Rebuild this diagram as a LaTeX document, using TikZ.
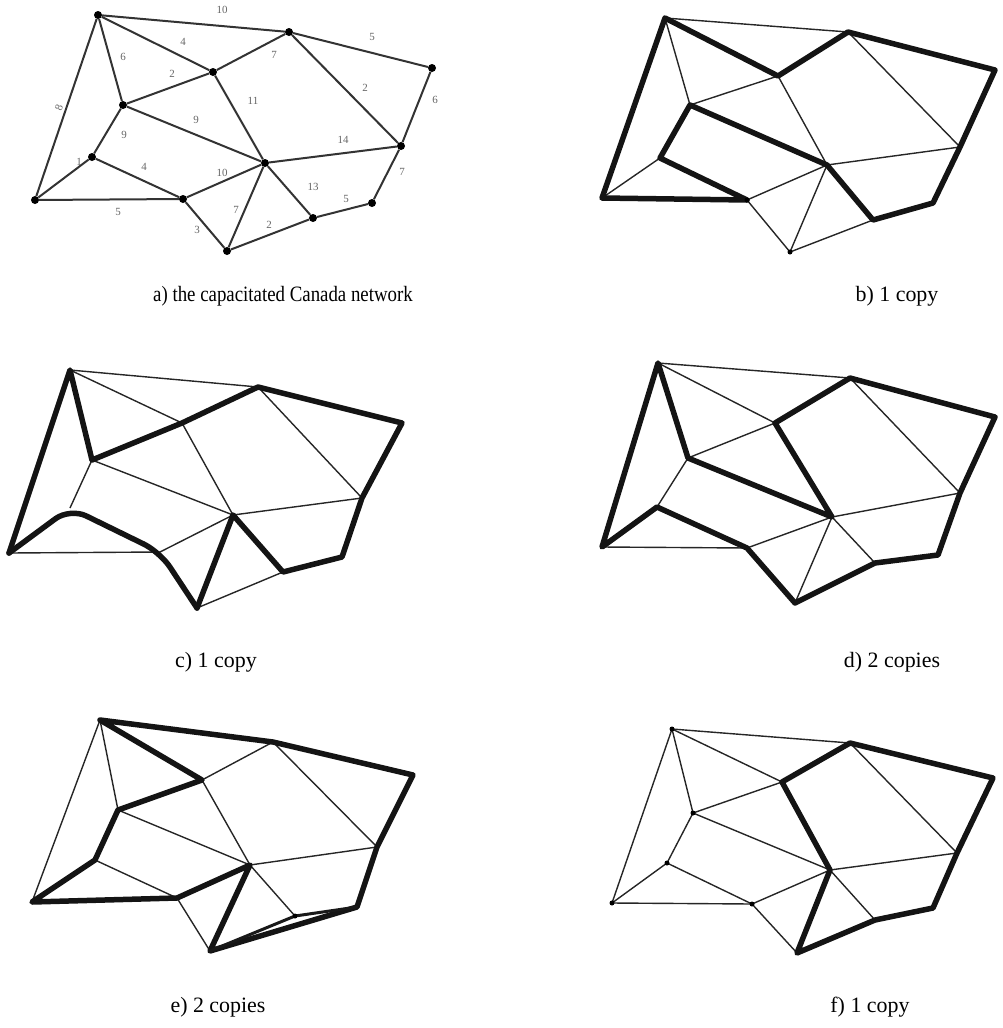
\documentclass[tikz,border=0pt]{standalone}
\usepackage{fontspec}
\setmainfont{Liberation Serif}
\begin{document}
\begin{tikzpicture}[x=1bp,y=-1bp,
  dot/.style={circle,fill=black,inner sep=0pt,minimum size=8bp},
  sdot/.style={circle,fill=black,inner sep=0pt,minimum size=5bp},
  aedge/.style={draw=black!80,line width=2bp},
  thinedge/.style={draw=black!85,line width=1.4bp},
  heavy/.style={draw=black!92,line width=5.5bp,line cap=round,line join=round},
  medium/.style={draw=black!90,line width=3bp,line cap=round,line join=round},
  lab/.style={font=\fontsize{11}{11}\selectfont,text=black!60,inner sep=1pt},
  captxt/.style={font=\fontsize{22}{24}\selectfont,inner sep=0pt}]
\useasboundingbox (0,0) rectangle (1003,1028);

% ---------------- panel a ----------------
\foreach \n/\x/\y in {A/98/15,B/213/72,C/123/105,D/92/157,E/35/200,F/183/199,G/227/251,H/265/163,I/289/32,J/432/68,K/401/146,L/372/203,M/313/218}
  \node[dot] (a-\n) at (\x,\y) {};
\foreach \u/\v in {A/I,A/B,A/C,A/E,B/I,B/C,B/H,C/H,C/D,D/E,D/F,E/F,F/H,F/G,G/H,G/M,H/M,H/K,I/J,I/K,J/K,K/L,L/M}
  \draw[aedge] (a-\u) -- (a-\v);
\foreach \t/\x/\y [count=\i] in {10/222/10,4/183/42,6/123/57,2/172/74,7/274/55,5/372/37,11/253/101,2/365/88,6/435/100,9/196/120,9/124/135,14/343/140,1/79/162,4/144/167,10/222/173,7/402/172,13/313/187,5/346/199,5/118/212,7/236/210,3/197/230,2/269/225}
  \node[lab] (la\i) at (\x,\y) {\t};
\node[lab,rotate=70] (laeight) at (59,108) {8};
\node[captxt,xscale=0.86] (capa) at (283,296) {a) the capacitated Canada network};

% ---------------- panel b ----------------
\foreach \n/\x/\y in {A/665/18,B/778/76,C/690/105,D/660/158,E/602/198,F/747/200,G/790/252,H/827/165,I/848/32,J/995/70,K/960/147,L/933/203,M/873/220}
  \coordinate (b-\n) at (\x,\y);
\foreach \u/\v in {A/I,A/C,B/C,B/H,D/E,F/H,F/G,G/H,G/M,H/K,I/K}
  \draw[thinedge] (b-\u) -- (b-\v);
\draw[heavy] (b-E) -- (b-A) -- (b-B) -- (b-I) -- (b-J) -- (b-K) -- (b-L) -- (b-M) -- (b-H) -- (b-C) -- (b-D) -- (b-F) -- cycle;
\node[sdot] (bdF) at (b-F) {};
\node[sdot] (bdG) at (b-G) {};
\node[captxt] (capb) at (897,296) {b) 1 copy};

% ---------------- panel c ----------------
\foreach \n/\x/\y in {A/70/370,B/182/423,C/92/460,D/70/508,E/9/553,F/160/552,G/197/608,H/233/515,I/258/387,J/402/423,K/362/498,L/342/557,M/283/572}
  \coordinate (c-\n) at (\x,\y);
\foreach \u/\v in {A/I,A/B,B/H,C/H,C/D,E/F,F/H,G/M,H/K,I/K}
  \draw[thinedge] (c-\u) -- (c-\v);
\draw[heavy] (c-E) -- (c-A) -- (c-C) -- (c-B) -- (c-I) -- (c-J) -- (c-K) -- (c-L) -- (c-M) -- (c-H) -- (c-G);
\draw[heavy,rounded corners=18bp] (c-G) -- (c-F) -- (c-D) -- (c-E);
\node[captxt] (capc) at (216,662) {c) 1 copy};

% ---------------- panel d ----------------
\foreach \n/\x/\y in {A/658/363,B/775/423,C/688/458,D/657/507,E/602/547,F/747/548,G/795/603,H/832/517,I/850/378,J/995/417,K/960/493,L/938/555,M/875/563}
  \coordinate (d-\n) at (\x,\y);
\foreach \u/\v in {A/I,A/B,B/C,C/D,E/F,F/H,G/H,H/M,H/K,I/K}
  \draw[thinedge] (d-\u) -- (d-\v);
\draw[heavy] (d-E) -- (d-A) -- (d-C) -- (d-H) -- (d-B) -- (d-I) -- (d-J) -- (d-K) -- (d-L) -- (d-M) -- (d-G) -- (d-F) -- (d-D) -- cycle;
\node[captxt] (capd) at (892,662) {d) 2 copies};

% ---------------- panel e ----------------
\foreach \n/\x/\y in {A/100/720,B/202/780,C/118/810,D/95/860,E/32/902,F/177/898,G/210/951,H/250/865,I/273/742,J/413/775,K/377/847,L/357/907,M/295/916}
  \coordinate (e-\n) at (\x,\y);
\foreach \u/\v in {A/E,A/C,B/I,B/H,C/H,D/F,F/G,H/M,H/K,I/K}
  \draw[thinedge] (e-\u) -- (e-\v);
\draw[heavy] (e-A) -- (e-I) -- (e-J) -- (e-K) -- (e-L) -- (e-G) -- (e-H) -- (e-F) -- (e-E) -- (e-D) -- (e-C) -- (e-B) -- cycle;
\draw[medium] (e-G) -- (e-M) -- (e-L);
\node[sdot] (edM) at (e-M) {};
\node[captxt] (cape) at (218,1007) {e) 2 copies};

% ---------------- panel f ----------------
\foreach \n/\x/\y in {A/672/729,B/782/782,C/693/813,D/667/863,E/612/903,F/752/904,G/797/953,H/830/870,I/850/743,J/993/778,K/957/853,L/933/908,M/875/920}
  \coordinate (f-\n) at (\x,\y);
\foreach \u/\v in {A/I,A/B,A/C,A/E,B/C,C/H,C/D,D/E,D/F,E/F,F/H,F/G,H/M,H/K,I/K}
  \draw[thinedge] (f-\u) -- (f-\v);
\draw[heavy] (f-B) -- (f-I) -- (f-J) -- (f-K) -- (f-L) -- (f-M) -- (f-G) -- (f-H) -- cycle;
\foreach \n in {A,C,D,E,F}
  \node[sdot] (fd\n) at (f-\n) {};
\node[captxt] (capf) at (870,1007) {f) 1 copy};
\end{tikzpicture}
\end{document}
